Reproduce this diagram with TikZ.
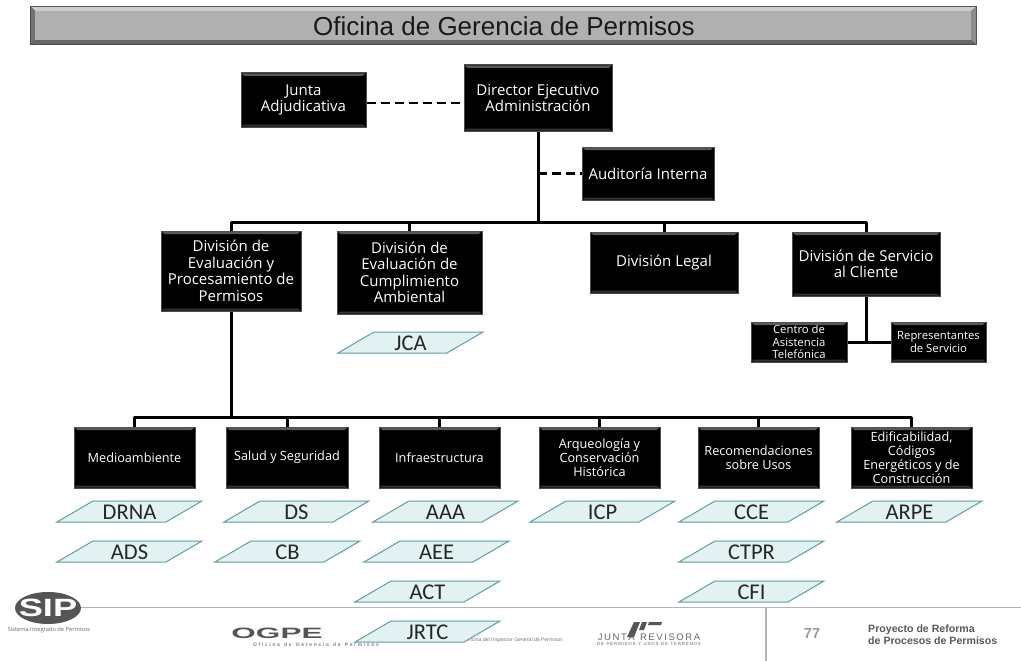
\documentclass[tikz,border=0pt]{standalone}
\usepackage{fontspec}
\setmainfont{Open Sans}
\newfontfamily\arialf{Liberation Sans}
\newfontfamily\calif{Carlito}
\usetikzlibrary{calc}
\definecolor{tealedge}{HTML}{5F9EA0}
\definecolor{tealfill}{HTML}{E2F2F2}
\definecolor{footgray}{HTML}{B4B4B4}
\definecolor{logogray}{HTML}{555555}
\tikzset{
  bx/.style={draw=black!70,line width=1pt,fill=black,text=white,align=center,inner sep=0pt,font=\linespread{1.1}\fontsize{#1}{#1}\selectfont},
  bx/.default=15,
  link/.style={line width=3pt,line join=round,draw=black},
  dlink/.style={line width=2.6pt,draw=black,dash pattern=on 9pt off 5pt},
  para/.style={draw=tealedge,line width=1pt,fill=tealfill},
  plabel/.style={inner sep=0pt,font=\calif\fontsize{22.5}{24}\selectfont,text=black!85},
  foot/.style={inner sep=0pt,text=black!60},
}
\newcommand{\boxat}[7][15]{% size, name, l, t, r, b, text
  \node[bx=#1,minimum width={(#5-#3)*1pt},minimum height={(#6-#4)*1pt}] (#2) at ({(#3+#5)/2},{(#4+#6)/2}) {#7};
  \fill[black!65] ({#3+.5},{#4+.5}) -- ({#5-.5},{#4+.5}) -- ({#5-3.5},{#4+3}) -- ({#3+3.5},{#4+3}) -- cycle;
  \fill[black!80] ({#3+.5},{#6-.5}) -- ({#5-.5},{#6-.5}) -- ({#5-3},{#6-2.5}) -- ({#3+3},{#6-2.5}) -- cycle;
}
\newcommand{\paraat}[4]{% name, left x, top y, text
  \draw[para] (#2,{#3+21}) -- ({#2+36},#3) -- ({#2+145},#3) -- ({#2+109},{#3+21}) -- cycle;
  \node[plabel] (#1) at ({#2+72.5},{#3+11.5}) {#4};
}
\begin{document}
\begin{tikzpicture}[x=1pt,y=-1pt]
\useasboundingbox (0,0) rectangle (1021,661);
\fill[white] (0,0) rectangle (1021,661);

% footer (behind)
\draw[footgray,line width=1.4pt] (80,607.5) -- (1021,607.5);
\draw[footgray,line width=2pt] (766,607) -- (766,661);
\fill[logogray] (48,608) ellipse (33 and 16);
\node[inner sep=0pt,text=white,font=\arialf\bfseries\fontsize{25}{25}\selectfont,xscale=1.45,transform shape] (sip) at (48,608) {SIP};
\node[foot,font=\fontsize{5.7}{7}\selectfont] (sipt) at (49,630) {Sistema Integrado de Permisos};
\node[inner sep=0pt,text=logogray,font=\arialf\bfseries\fontsize{15}{15}\selectfont,xscale=2.1,transform shape] (ogpe) at (277,633) {OGPE};
\node[foot,text=black!50,font=\arialf\bfseries\fontsize{5}{6}\selectfont] (ogpet) at (316,644.5) {O\,\,f\,\,i\,\,c\,\,i\,\,n\,\,a\ \ \ d\,\,e\ \ \ G\,\,e\,\,r\,\,e\,\,n\,\,c\,\,i\,\,a\ \ \ d\,\,e\ \ \ P\,\,e\,\,r\,\,m\,\,i\,\,s\,\,o\,\,s};
\node[foot,font=\fontsize{5}{6}\selectfont,anchor=east] (ins) at (563,640.5) {Oficina del Inspector General de Permisos};
\fill[logogray] (634,622) -- (640,622) -- (634,637) -- (627,637) -- cycle;
\fill[logogray] (642,622) -- (647,622) -- (644,630) -- (639,630) -- cycle;
\fill[logogray] (649,622) -- (662,622) -- (661,625) -- (648,625) -- cycle;
\node[foot,font=\arialf\fontsize{9.5}{10}\selectfont] (jr) at (649,637) {J\,U\,N\,T\,A\ \ R\,E\,V\,I\,S\,O\,R\,A};
\node[foot,font=\arialf\fontsize{4.5}{5}\selectfont] (jrt) at (649,643.5) {D\,E\ \ P\,E\,R\,M\,I\,S\,O\,S\ \ Y\ \ U\,S\,O\,S\ \ D\,E\ \ T\,E\,R\,R\,E\,N\,O\,S};
\node[inner sep=0pt,text=black!40,font=\arialf\bfseries\fontsize{14.5}{15}\selectfont] (num) at (812,634) {77};
\node[inner sep=0pt,text=black!65,anchor=west,align=left,font=\arialf\bfseries\fontsize{10.6}{12.2}\selectfont] (proy) at (868,635) {Proyecto de Reforma\\de Procesos de Permisos};

% title
\fill[black!70] (30,6) rectangle (977,45);
\fill[black!20] (31,7) -- (976,7) -- (971,11) -- (35,11) -- cycle;
\fill[black!55] (31,7) -- (35,11) -- (35,40) -- (31,44) -- cycle;
\fill[black!45] (976,7) -- (971,11) -- (971,40) -- (976,44) -- cycle;
\fill[black!60] (31,44) -- (35,40) -- (971,40) -- (976,44) -- cycle;
\fill[black!31] (35,11) rectangle (971,40);
\node[inner sep=0pt,font=\arialf\fontsize{26}{28}\selectfont,text=black!90] (title) at (504,26.5) {Oficina de Gerencia de Permisos};

% boxes
\boxat{junta}{241}{73}{366}{127}{Junta\\Adjudicativa}
\boxat{dir}{464}{65}{612}{131}{Director Ejecutivo\\Administración}
\boxat{aud}{582}{147}{714}{200}{Auditoría Interna}
\boxat{d1}{161}{231}{301}{311}{División de\\Evaluación y\\Procesamiento de\\Permisos}
\boxat{d2}{337}{231}{482}{314}{División de\\Evaluación de\\Cumplimiento\\Ambiental}
\boxat{d3}{590}{232}{738}{293}{División Legal}
\boxat{d4}{792}{232}{940}{296}{División de Servicio\\al Cliente}
\boxat[11.3]{cen}{751}{322}{847}{362}{Centro de\\Asistencia\\Telefónica}
\boxat[11.3]{rep}{891}{322}{986}{362}{Representantes\\de Servicio}
\boxat[12.7]{r1}{74}{427}{195}{488}{Medioambiente}
\boxat[12.7]{r2}{226}{427}{348}{488}{Salud y Seguridad}
\boxat[12.7]{r3}{379}{427}{500}{488}{Infraestructura}
\boxat[12.7]{r4}{539}{427}{660}{488}{Arqueología y\\Conservación\\Histórica}
\boxat[12.7]{r5}{698}{427}{819}{488}{Recomendaciones\\sobre Usos}
\boxat[12.7]{r6}{851}{427}{972}{488}{Edificabilidad,\\Códigos\\Energéticos y de\\Construcción}

% connectors
\coordinate (hub1) at (dir.south |- 0,223);
\coordinate (audj) at (dir.south |- aud.west);
\coordinate (hub2) at (d1.south |- 0,418);
\coordinate (hub3) at (d4.south |- cen.east);
\draw[dlink] (junta.east |- 0,103) -- (dir.west |- 0,103);
\draw[dlink] (audj) -- (aud.west);
\draw[link] (dir.south) -- (hub1);
\draw[link] (d1.north) -- ++(0,-8) -| (d4.north);
\draw[link] (d2.north) -- ++(0,-8);
\draw[link] (d3.north) -- ++(0,-9);
\draw[link] (d1.south) -- (hub2);
\draw[link] (r1.north) -- ++(0,-9) -| (r6.north);
\foreach \n in {r2,r3,r4,r5} \draw[link] (\n.north) -- ++(0,-9);
\draw[link] (d4.south) -- (hub3);
\draw[link] (cen.east) -- (rep.west);

% parallelograms
\paraat{jca}{338}{332}{JCA}
\paraat{drna}{57}{501}{DRNA}
\paraat{ads}{57}{541}{ADS}
\paraat{ds}{224}{501}{DS}
\paraat{cb}{215}{541}{CB}
\paraat{aaa}{373}{501}{AAA}
\paraat{aee}{364}{541}{AEE}
\paraat{act}{355}{581}{ACT}
\paraat{jrtc}{355}{621}{JRTC}
\paraat{icp}{530}{501}{ICP}
\paraat{cce}{679}{501}{CCE}
\paraat{ctpr}{679}{541}{CTPR}
\paraat{cfi}{679}{581}{CFI}
\paraat{arpe}{837}{501}{ARPE}
\end{tikzpicture}
\end{document}
